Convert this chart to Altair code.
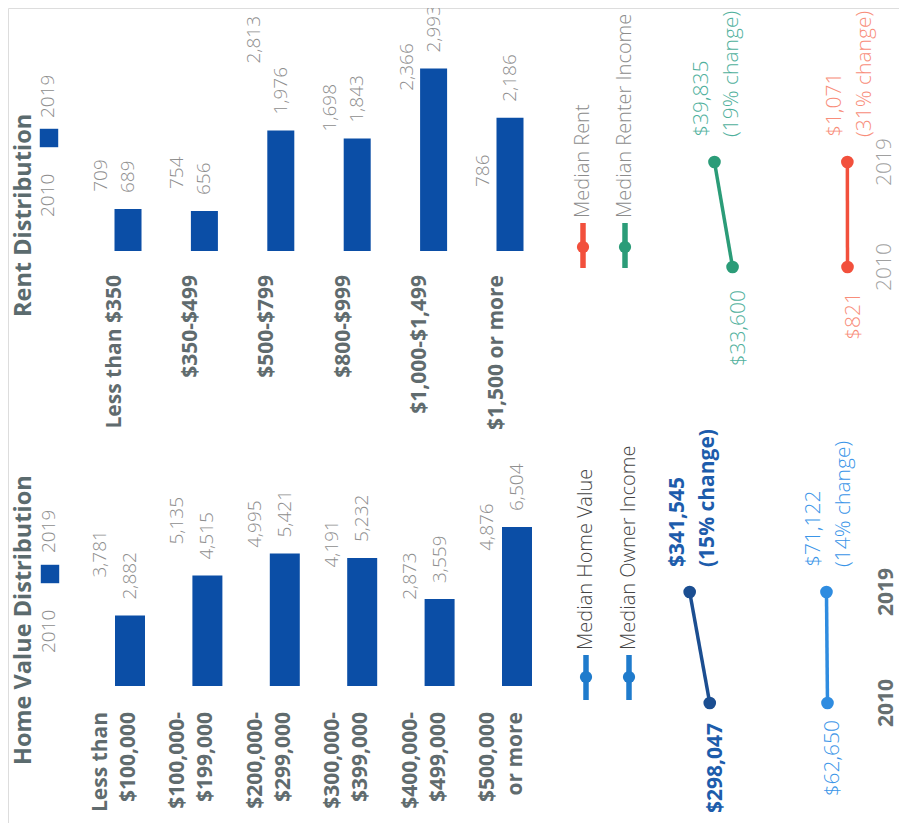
import altair as alt
import pandas as pd

# ---------------- data ----------------
home_cats = ["Less than\n$100,000", "$100,000-\n$199,000", "$200,000-\n$299,000",
             "$300,000-\n$399,000", "$400,000-\n$499,000", "$500,000\nor more"]
home_2010 = [3781, 5135, 4995, 4191, 2873, 4876]
home_2019 = [2882, 4515, 5421, 5232, 3559, 6504]

rent_cats = ["Less than $350", "$350-$499", "$500-$799", "$800-$999",
             "$1,000-$1,499", "$1,500 or more"]
rent_2010 = [709, 754, 2813, 1698, 2366, 786]
rent_2019 = [689, 656, 1976, 1843, 2993, 2186]

years = [2010, 2019]
median_home_value = [298047, 341545]
median_owner_income = [62650, 71122]
median_rent = [821, 1071]
median_renter_income = [33600, 39835]
pct_change = {"home": 15, "owner": 14, "rent": 31, "renter": 19}

# ---------------- style ----------------
FONT = "Open Sans Light, Open Sans"
FONT_B = "Open Sans"
BAR = "#0b4ea6"
TITLE = "#5b6b6e"
CAT = "#606b6e"
VAL = "#8e8e8e"
W, H = 891, 815


def long_df(cats, v10, v19):
    rows = []
    for c, a, b in zip(cats, v10, v19):
        rows.append({"cat": c, "year": "2010", "value": a})
        rows.append({"cat": c, "year": "2019", "value": b})
    return pd.DataFrame(rows)


def dist_layers(cats, v10, v19, xrange, pin, pout, ydom, yrange, cat_y, lines):
    df = long_df(cats, v10, v19)
    xs = alt.X("cat:N", scale=alt.Scale(domain=cats, range=xrange, paddingInner=pin,
                                        paddingOuter=pout), axis=None, sort=cats)
    xo = alt.XOffset("year:N", scale=alt.Scale(domain=["2010", "2019"]))
    ys = alt.Y("value:Q", scale=alt.Scale(domain=ydom, range=yrange, nice=False, zero=False),
               axis=None)
    bars = alt.Chart(df).transform_filter("datum.year == '2019'").mark_bar(color=BAR).encode(
        x=xs, xOffset=xo, y=ys)
    vals = alt.Chart(df).mark_text(angle=270, align="left", baseline="middle", dx=16,
                                   font=FONT, fontWeight=300, fontSize=19, color=VAL).encode(
        x=xs, xOffset=xo, y=ys, text=alt.Text("value:Q", format=","))
    cdf = pd.DataFrame({"cat": cats})
    lh = 28
    labs = alt.Chart(cdf).mark_text(angle=270, align="right", baseline="middle",
                                    lineBreak="\n", lineHeight=lh, dy=-(lines - 1) * lh / 2,
                                    font=FONT_B, fontWeight="bold", fontSize=21,
                                    color=CAT).encode(
        x=xs, y=alt.value(cat_y), text="cat:N")
    return [bars, vals, labs]


def text_layer(txt, x, y, size, color, weight="normal", align="left", font=FONT):
    return alt.Chart(pd.DataFrame({"t": [txt]})).mark_text(
        angle=270, align=align, baseline="middle", font=font, fontSize=size,
        fontWeight=weight, color=color).encode(x=alt.value(x), y=alt.value(y), text="t:N")


def legend_header(title, tx, ty, lx, y10, y19, sq_y):
    one = pd.DataFrame({"a": [0]})
    return [
        text_layer(title, tx, ty, 23.5, TITLE, "bold", font=FONT_B),
        text_layer("2010", lx, y10, 19, VAL, 300),
        text_layer("2019", lx, y19, 19, VAL, 300),
        alt.Chart(one).mark_square(size=340, color=BAR, opacity=1).encode(
            x=alt.value(lx + 1), y=alt.value(sq_y)),
    ]


def legend_item(label, x, y_text, y1, y2, ydot, sym_color, txt_color):
    one = pd.DataFrame({"a": [0]})
    return [
        alt.Chart(one).mark_rule(color=sym_color, strokeWidth=5.5).encode(
            x=alt.value(x), y=alt.value(y1), y2=alt.value(y2)),
        alt.Chart(one).mark_circle(size=150, color=sym_color, opacity=1).encode(
            x=alt.value(x), y=alt.value(ydot)),
        text_layer(label, x, y_text, 20, txt_color, 300),
    ]


def slope_layers(values, pct, xdom, xrange, yrange, line_color, txt_color, weight,
                 below_dx, above_dx):
    labels = ["${:,}".format(values[0]), "${:,}\n({}% change)".format(values[1], pct)]
    df = pd.DataFrame({"year": years, "value": values, "label": labels})
    xs = alt.X("value:Q", scale=alt.Scale(domain=xdom, range=xrange, nice=False, zero=False),
               axis=None)
    ys = alt.Y("year:Q", scale=alt.Scale(domain=[2010, 2019], range=yrange, nice=False,
                                         zero=False), axis=None)
    font = FONT_B if weight == "bold" else FONT
    line = alt.Chart(df).mark_line(color=line_color, strokeWidth=3.5).encode(x=xs, y=ys)
    pts = alt.Chart(df).mark_circle(size=160, color=line_color, opacity=1).encode(x=xs, y=ys)
    lo = alt.Chart(df).transform_filter("datum.year == 2010").mark_text(
        angle=270, align="right", baseline="middle", dx=below_dx, dy=6, font=font,
        fontSize=21, fontWeight=weight, color=txt_color).encode(x=xs, y=ys, text="label:N")
    hi = alt.Chart(df).transform_filter("datum.year == 2019").mark_text(
        angle=270, align="left", baseline="middle", dx=above_dx, dy=-12, lineBreak="\n",
        lineHeight=30, font=font, fontSize=21, fontWeight=weight, color=txt_color).encode(
        x=xs, y=ys, text="label:N")
    return [line, pts, lo, hi]


def year_axis(x, yrange, color, weight):
    df = pd.DataFrame({"year": years})
    ys = alt.Y("year:Q", scale=alt.Scale(domain=[2010, 2019], range=yrange, nice=False,
                                         zero=False), axis=None)
    font = FONT_B if weight == "bold" else FONT
    return [alt.Chart(df).mark_text(angle=270, align="center", baseline="middle", font=font,
                                    fontSize=21, fontWeight=weight, color=color).encode(
        x=alt.value(x), y=ys, text=alt.Text("year:Q", format="d"))]


layers = []
# ----- Home value section (bottom) -----
layers += legend_header("Home Value Distribution", 16, 757, 41, 645, 545, 566)
layers += dist_layers(home_cats, home_2010, home_2019, [68.3, 532.7], 0.225, 0.1125,
                      [0, 10000], [678, 433.5], 704, 2)
layers += legend_item("Median Home Value", 578, 642, 647, 692, 669, "#1f7bcc", "#444444")
layers += legend_item("Median Owner Income", 621, 642, 647, 692, 669, "#1f7bcc", "#444444")
layers += slope_layers(median_home_value, pct_change["home"], [200000, 460000], [747, 627],
                       [695, 584], "#1b4e91", "#1d5cab", "bold", -20, 25)
layers += slope_layers(median_owner_income, pct_change["owner"], [0, 500000], [827, 767],
                       [695, 584], "#2f8ce0", "#3a95e8", "normal", -17, 25)
layers += year_axis(879, [695, 584], "#666f71", "bold")

# ----- Rent section (top) -----
layers += legend_header("Rent Distribution", 16, 309, 40, 209, 110, 130)
layers += dist_layers(rent_cats, rent_2010, rent_2019, [68.3, 526.7], 0.293, 0.1466,
                      [0, 4000], [243, -1], 267, 1)
layers += legend_item("Median Rent", 575, 210, 215, 260, 239, "#f2503c", "#8c8c8c")
layers += legend_item("Median Renter Income", 617, 210, 215, 260, 239, "#2b9c78", "#8c8c8c")
layers += slope_layers(median_renter_income, pct_change["renter"], [20000, 60000], [764, 648],
                       [259, 154], "#2b9c78", "#4fb09c", 300, -23, 25)
layers += slope_layers(median_rent, pct_change["rent"], [0, 100000], [840, 780],
                       [259, 154], "#f2503c", "#f88d7a", 300, -25, 25)
layers += year_axis(877, [259, 154], "#a0a0a0", 300)

chart = alt.layer(*layers).resolve_scale(
    x="independent", y="independent", xOffset="independent"
).properties(
    width=W, height=H, padding=0, autosize=alt.AutoSizeParams(type="none")
).configure_view(stroke=None).configure(background="white")

chart.save("out.html", embed_options={"renderer": "svg", "actions": False})
